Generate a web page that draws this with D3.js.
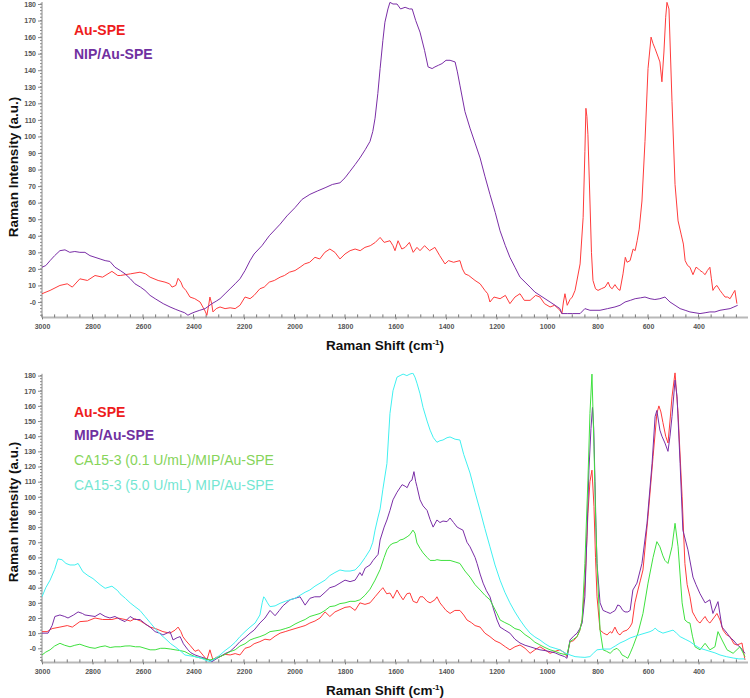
<!DOCTYPE html>
<html><head><meta charset="utf-8">
<script src="https://cdn.jsdelivr.net/npm/d3@7"></script>
<style>body{margin:0;background:#fff}svg{display:block}</style>
</head><body>
<svg id="c" width="750" height="698"></svg>
<script>
const xTickValues = [3000,2800,2600,2400,2200,2000,1800,1600,1400,1200,1000,800,600,400];
const yTickValues = [0,10,20,30,40,50,60,70,80,90,100,110,120,130,140,150,160,170,180];
const xTitle = "Raman Shift (cm";
const yTitle = "Raman Intensity (a.u.)";

const topLabels = ["Au-SPE","NIP/Au-SPE"];
const botLabels = ["Au-SPE","MIP/Au-SPE","CA15-3 (0.1 U/mL)/MIP/Au-SPE","CA15-3 (5.0 U/mL) MIP/Au-SPE"];

const topAuSPE = [[3000,5],[2968,7],[2929,10],[2900,11],[2880,9],[2850,14],[2820,13],[2790,16],[2760,15],[2723,18.5],[2700,16],[2690,16],[2650,17],[2612,18],[2590,17],[2572,15],[2540,13],[2513,12],[2495,11],[2485,9],[2470,10],[2461,14.3],[2450,12],[2442,9],[2430,7],[2414,3],[2395,2],[2374,0],[2354,-5.5],[2347,-8],[2340,-2],[2335,3],[2328,-1],[2323,-6],[2310,-4],[2295,-3],[2275,-4],[2255,-3.5],[2235,-4],[2216,-2],[2196,3],[2176,2],[2160,4],[2137,8],[2120,9],[2100,12],[2080,13],[2057,15],[2040,16],[2020,18],[1998,19],[1978,21],[1960,23],[1940,24],[1919,27],[1900,26],[1880,30],[1860,32],[1840,30],[1820,26],[1800,29],[1780,31],[1760,32],[1740,31],[1721,33],[1700,34],[1680,36],[1661,39],[1645,36],[1622,37],[1610,34],[1602,31],[1590,37],[1575,32],[1562,33],[1545,36],[1530,30],[1515,33],[1503,31],[1485,34],[1465,31],[1444,33],[1425,28],[1404,23],[1390,25],[1370,24],[1345,25],[1335,20],[1325,17],[1310,16],[1285,13],[1265,11],[1246,7],[1235,5],[1226,0],[1210,3],[1186,2],[1165,4],[1147,-1],[1127,3],[1107,5],[1090,1],[1067,1],[1045,4],[1028,3],[1010,-1],[988,-3],[970,-2],[949,-5],[941,-7],[935,0],[929,5],[920,-2],[909,1.5],[900,3],[889,7],[869,23],[857,51],[850,91],[846,117],[842,112],[838,101],[830,61],[824,30],[818,13],[808,8],[798,7],[785,8],[770,9],[758,12],[750,9],[742,8],[731,10.5],[720,8],[711,7],[699,17],[690,27],[683,24],[671,25],[659,32],[651,31],[643,37],[635,44],[624,61],[612,97],[600,141],[588,160],[580,156],[572,153],[560,148],[553,145],[545,133],[537,151],[530,172],[525,181],[517,177],[505,121],[493,71],[481,49],[469,41],[460,35],[453,25],[443,22],[434,21],[422,16.5],[410,21],[400,20],[394,19],[384,18],[374,16.5],[365,19],[355,21],[349,14],[343,7],[335,9],[327,10],[315,7],[305,5],[295,3],[285,3],[275,2],[264,5],[256,7],[248,-1]];

const topNIP = [[3000,21],[2985,22],[2968,25],[2950,28],[2929,31],[2909,31.5],[2890,30],[2870,30.5],[2850,30],[2830,30],[2810,28],[2790,27],[2770,26],[2750,25],[2731,24.5],[2711,21],[2690,19],[2671,17],[2650,14],[2632,11],[2610,9],[2592,7],[2572,4],[2552,2],[2520,-1],[2493,-3],[2470,-4.5],[2453,-5.5],[2435,-6.5],[2422,-8],[2410,-7],[2394,-6],[2375,-5],[2354,-4],[2327,-1],[2310,0.5],[2295,2],[2275,5],[2255,8],[2235,11],[2216,14],[2196,19],[2176,25],[2160,29],[2129,34],[2100,40],[2057,47],[2030,52],[1998,57],[1970,62],[1939,65],[1910,67],[1879,69],[1850,71],[1820,72],[1800,75],[1780,79],[1760,83],[1741,87],[1720,92],[1701,97],[1690,103],[1681,111],[1670,126],[1661,141],[1650,158],[1642,169],[1630,177],[1622,181],[1610,180],[1594,180],[1580,177],[1562,178],[1545,177],[1534,177],[1520,170],[1503,163],[1485,152],[1471,142],[1455,141],[1444,142],[1430,143],[1416,144],[1400,146],[1384,146],[1364,145],[1355,139],[1345,131],[1325,115],[1305,105],[1285,96],[1265,87],[1246,76],[1226,65],[1205,54],[1186,43],[1165,34],[1147,27],[1127,21],[1107,15],[1087,12],[1067,9],[1048,6],[1028,4],[1008,2],[988,0],[968,-2],[949,-4],[941,-7],[920,-7],[900,-7],[869,-7],[850,-4],[830,-5],[790,-5],[760,-4],[731,-3],[711,-2],[691,0],[670,1],[651,2],[630,2.5],[612,3],[592,2],[573,1.5],[553,2],[533,3],[513,0],[493,-2],[473,-4],[453,-5],[434,-6],[414,-6.5],[394,-7],[374,-6.5],[355,-6],[335,-6],[315,-5],[295,-4.5],[275,-4],[260,-3],[245,-2]];

const botAuSPE = [[3000,11],[2980,11],[2960,13],[2929,14],[2900,15],[2880,14],[2850,17.6],[2820,18],[2790,20],[2760,19],[2723,19],[2700,20],[2671,19],[2650,18],[2632,19.5],[2610,18],[2572,14],[2550,13],[2521,11],[2493,10],[2473,12],[2461,14],[2450,11],[2442,7.7],[2430,5],[2414,2],[2394,-2],[2380,-1],[2360,-5],[2347,-7.7],[2335,-1],[2323,-7.7],[2310,-6],[2295,-5.5],[2275,-4],[2255,-4.4],[2235,-3.5],[2216,-4.4],[2196,0],[2176,1],[2160,3],[2137,4.4],[2117,6],[2097,5.5],[2077,8],[2057,10],[2037,11],[2018,12],[1998,13],[1978,14],[1958,15],[1939,16.7],[1919,18],[1899,20],[1879,24],[1860,21],[1840,24],[1820,25.5],[1800,27],[1780,27.5],[1760,25],[1741,30],[1721,29],[1701,30],[1681,34],[1661,38],[1650,40],[1635,36],[1622,36.5],[1610,33],[1594,38.5],[1582,35],[1570,32],[1555,36],[1543,36.5],[1530,31],[1515,30],[1503,34],[1491,34],[1475,31],[1463,30],[1444,32],[1436,34],[1424,30],[1412,27.5],[1400,25],[1384,23],[1365,25],[1345,25],[1330,22],[1317,18.7],[1300,17],[1285,15],[1265,14],[1246,10],[1226,7.7],[1206,5],[1186,3.5],[1165,1],[1147,-1],[1127,1],[1107,2.2],[1087,0],[1067,-3.3],[1048,-1],[1028,1],[1008,-1],[988,-3.3],[968,-2],[949,-1],[930,-3],[921,-5.5],[909,4.4],[895,5],[881,7.7],[870,12],[861,18.7],[849,45],[838,89],[830,110],[822,117.6],[814,93.5],[808,60],[802,34],[790,12],[776,10],[762,8.8],[750,11],[743,10],[731,14],[720,10],[711,8.8],[700,11],[683,12],[672,14],[663,16.7],[652,30],[640,38.5],[630,45],[620,51.7],[600,87],[580,126.5],[565,155],[557,160],[549,156],[541,149],[530,140],[521,135.5],[513,150],[505,166],[493,182],[481,155],[465,100],[454,56],[445,42],[434,34],[424,24],[414,21],[404,18],[394,16.7],[384,19],[374,21],[364,18],[355,16.7],[340,20],[327,23],[315,18.7],[303,12],[290,9],[275,7.7],[260,3],[248,2.2],[235,3],[228,3.5],[216,-7.7]];

const botMIP = [[3000,10],[2976,10],[2960,15],[2949,21],[2929,22],[2910,21],[2897,20],[2875,22],[2857,24],[2840,23],[2830,22],[2810,21.5],[2790,21],[2770,23],[2750,21],[2731,20],[2711,21],[2690,19],[2671,17.6],[2651,21],[2632,19],[2612,19],[2590,16],[2572,14],[2552,11],[2535,10],[2521,8.8],[2505,10],[2493,11],[2481,5.5],[2465,7],[2453,7.7],[2440,3],[2422,-1],[2410,-3],[2394,-4.4],[2375,-5.5],[2354,-6.6],[2340,-7.5],[2327,-8.8],[2310,-7],[2295,-5.5],[2275,-3.5],[2255,-2],[2235,1],[2216,4.4],[2196,7],[2176,10],[2160,12],[2137,16.7],[2117,20],[2097,25],[2077,21.5],[2060,25],[2046,28],[2018,32],[1998,33],[1978,34],[1958,28.5],[1939,33],[1920,34],[1899,34],[1879,37],[1860,40],[1840,41],[1820,43],[1800,45],[1780,44],[1760,45],[1741,50],[1733,48],[1720,53],[1701,55],[1689,58],[1669,62],[1661,71.5],[1645,80],[1634,84.7],[1622,91],[1610,98],[1594,103],[1574,108],[1562,107],[1554,106],[1543,110],[1535,111],[1527,116.6],[1520,110],[1515,106.7],[1503,98],[1491,94],[1475,91],[1463,85],[1451,80],[1436,84.7],[1424,83],[1412,84],[1396,83.6],[1384,86],[1370,83],[1356,80],[1345,79],[1333,78],[1317,70],[1305,67],[1285,60],[1277,56],[1265,49],[1253,43],[1240,38],[1226,34],[1212,26],[1198,18.7],[1186,14],[1167,12],[1147,10],[1127,6],[1107,3.5],[1087,2],[1067,1],[1048,0],[1028,-1],[1008,-1.5],[988,-2.2],[968,-3],[949,-4.4],[930,-5.5],[921,-6.6],[909,5.5],[895,8],[881,10],[870,13],[861,16.7],[850,34],[842,73.6],[834,117.6],[826,145],[820,159],[815,145],[810,110],[806,80],[802,56],[790,30],[778,25],[764,24],[750,23],[740,24],[730,25],[720,28.6],[711,28],[700,25],[691,24],[680,24],[671,25],[660,38.5],[644,43],[624,56],[604,82.6],[584,122],[572,153],[565,157],[553,144],[545,140],[533,135.5],[521,130],[513,140],[505,153],[493,177],[485,166],[473,122],[462,78],[442,65],[422,47],[410,42],[394,36],[374,30],[355,32],[343,23],[323,30.8],[307,14],[287,10],[275,7],[263,5.5],[245,2],[236,1],[216,-3.3]];

const botCA01 = [[3000,-4.4],[2985,-2.5],[2968,-1],[2950,1.5],[2929,3.3],[2910,2],[2889,1],[2870,2],[2850,2.7],[2830,1.5],[2810,0.5],[2790,0],[2770,1],[2750,1.6],[2730,0.5],[2711,1],[2690,1],[2671,1.5],[2651,1.6],[2630,1],[2612,1],[2592,0],[2572,-1],[2552,-1],[2530,0],[2513,0],[2490,-0.5],[2473,-1],[2453,-1.5],[2434,-2.2],[2414,-4],[2394,-5.5],[2370,-6.5],[2335,-7.7],[2310,-6.5],[2295,-5.5],[2275,-4],[2255,-2.2],[2235,-1],[2216,1.5],[2196,3],[2176,5.5],[2160,6.5],[2137,7.7],[2117,9],[2097,11],[2077,11.5],[2057,12],[2037,13],[2018,14],[1998,16],[1978,17.6],[1958,19],[1939,21],[1919,22],[1899,23],[1879,25],[1860,27.5],[1840,28],[1820,29.5],[1800,30],[1780,31],[1760,31],[1741,32],[1721,35],[1701,39],[1681,45],[1661,52],[1645,60],[1634,65],[1622,68],[1610,69.3],[1594,70],[1582,71.5],[1570,72],[1554,73.6],[1543,75],[1531,78],[1523,76],[1515,69.5],[1503,66],[1491,63],[1475,60],[1463,58],[1444,58],[1436,58.5],[1420,58],[1400,58],[1384,58],[1364,57],[1345,56],[1325,51],[1305,47],[1285,42],[1265,38.5],[1246,35],[1226,32],[1198,23],[1186,18.7],[1167,17],[1147,15.4],[1127,13],[1107,12],[1087,9],[1067,6.8],[1048,4],[1028,2.2],[1008,0.5],[988,-1],[968,-2],[949,-3.3],[921,-4.4],[909,4.4],[895,6],[881,7.7],[870,12],[861,18.7],[850,56],[838,111],[830,155],[822,181],[814,133],[808,90],[802,56],[790,12],[778,-1],[764,-2],[750,-3.3],[736,-1],[723,0],[711,-2],[703,-4.4],[690,-5.5],[680,-6.6],[670,-3],[660,1],[640,10],[620,23],[600,43],[580,60],[565,70.4],[553,67],[541,61],[533,58],[521,56],[505,67],[493,82.5],[481,67],[465,30],[454,18.7],[442,17],[434,16.7],[424,8],[414,1],[394,-1],[374,3.3],[355,-1],[335,1],[323,11],[307,5.5],[287,-1],[263,-3.3],[236,1],[216,-5.5]];

const botCA50 = [[3000,34],[2985,40],[2968,45],[2950,52],[2937,59],[2921,58.5],[2905,56],[2889,55],[2870,55],[2857,56],[2838,50.5],[2818,48],[2798,46],[2770,42],[2750,39.6],[2723,41],[2700,38],[2691,36],[2670,33],[2651,30],[2632,27.5],[2612,25],[2592,21],[2572,17],[2552,13],[2530,9],[2513,6.6],[2490,3],[2473,1],[2450,-2],[2434,-4.4],[2414,-5],[2394,-5.5],[2370,-6.5],[2354,-7.7],[2335,-8.8],[2315,-7],[2295,-4.4],[2275,-1.5],[2255,1],[2235,4],[2216,7.7],[2196,11],[2176,14],[2156,16.7],[2137,22],[2128,30],[2122,34],[2117,33],[2107,30],[2097,27.5],[2077,28],[2057,29.7],[2037,31],[2018,32],[1998,33],[1978,35],[1958,37],[1939,38.5],[1919,41],[1899,43],[1879,45],[1860,48],[1840,50],[1820,51.7],[1800,51],[1780,51],[1760,51.7],[1741,55],[1720,60],[1701,65],[1690,70],[1681,78],[1670,86],[1661,92],[1650,105],[1634,122],[1622,155],[1610,170],[1594,179],[1582,180],[1570,181],[1555,180],[1543,181],[1531,181.6],[1523,179],[1515,175],[1503,168],[1491,159],[1475,150],[1463,144],[1450,139],[1436,136],[1424,137],[1412,137.5],[1396,139],[1384,139.5],[1364,138],[1345,137.5],[1330,128],[1305,115.7],[1285,103],[1265,91],[1246,79],[1226,67],[1206,55],[1186,45],[1167,37],[1147,30],[1127,24],[1107,18.7],[1087,14],[1067,10],[1048,7.5],[1028,5.5],[1008,3],[988,1],[968,0],[949,-1],[929,-3],[909,-4.4],[889,-5.5],[869,-5.8],[850,-6],[830,-5.5],[815,-3],[802,-1],[776,-0.5],[750,-0.5],[730,1.5],[711,3.5],[691,5],[671,6.8],[650,8],[632,9],[612,10],[592,11],[580,12],[572,13.3],[560,11.5],[541,10],[521,11],[501,12],[487,10],[473,7.7],[453,6],[434,4.4],[414,2],[394,0],[374,-1],[355,-2],[335,-3],[315,-4.4],[290,-5.5],[263,-6.4],[240,-7],[216,-7]];

const lineColors = ["#ff3b3b","#7a2ea6","#3fe03f","#40f0f0"];
const textColors = ["#ee1c1c","#7030a0","#86d45a","#74e6d2"];

const svg = d3.select("#c");
const font = "'Liberation Sans', Arial, sans-serif";

function panel(cfg) {
  const x = d3.scaleLinear().domain([3000, 212]).range([42, 746]);
  const y = d3.scaleLinear().domain([0, 180]).range([cfg.y0, cfg.y180]);
  const yBottom = y(-9.3), yTop = Math.max(0, y(181.2));
  const g = svg.append("g");
  const id = "clip" + cfg.name;
  svg.append("clipPath").attr("id", id).append("rect")
    .attr("x", 42).attr("y", yTop - 1).attr("width", 706).attr("height", yBottom - yTop + 1);

  g.append("line").attr("x1", 42).attr("x2", 42).attr("y1", yTop).attr("y2", yBottom)
    .attr("stroke", "#8a8a8a").attr("stroke-width", 1);
  g.append("line").attr("x1", 42).attr("x2", 748).attr("y1", yBottom).attr("y2", yBottom)
    .attr("stroke", "#b8b8b8").attr("stroke-width", 2);

  const yMinor = d3.range(-8, 181, 2);
  g.selectAll(".ym").data(yMinor).join("line")
    .attr("x1", 40).attr("x2", 42).attr("y1", d => y(d)).attr("y2", d => y(d))
    .attr("stroke", "#8a8a8a").attr("stroke-width", 1);
  const yAxis = d3.axisLeft(y).tickValues(yTickValues).tickSize(4)
    .tickFormat(d => d === 0 ? "-0" : d);
  const ya = g.append("g").attr("transform", "translate(42,0)").call(yAxis);
  ya.select(".domain").remove();
  ya.selectAll(".tick line").attr("stroke", "#8a8a8a");
  ya.selectAll(".tick text").attr("fill", "#555").attr("font-size", 7).attr("font-weight", "bold")
    .attr("font-family", font).attr("x", -6);

  const xMinor = d3.range(250, 3001, 50);
  g.selectAll(".xm").data(xMinor).join("line")
    .attr("x1", d => x(d)).attr("x2", d => x(d)).attr("y1", yBottom - 3).attr("y2", yBottom)
    .attr("stroke", "#777").attr("stroke-width", 1);
  const xAxis = d3.axisBottom(x).tickValues(xTickValues).tickSize(2).tickFormat(d => d);
  const xa = g.append("g").attr("transform", `translate(0,${yBottom})`).call(xAxis);
  xa.select(".domain").remove();
  xa.selectAll(".tick line").attr("stroke", "#777");
  xa.selectAll(".tick text").attr("fill", "#555").attr("font-size", 7).attr("font-weight", "bold")
    .attr("font-family", font).attr("dy", "0.9em");

  const line = d3.line().x(d => x(d[0])).y(d => y(d[1]));
  const lg = g.append("g").attr("clip-path", `url(#${id})`);
  cfg.series.forEach((s, i) => {
    lg.append("path").datum(s).attr("d", line).attr("fill", "none")
      .attr("stroke", cfg.colors[i]).attr("stroke-width", 1).attr("stroke-linejoin", "round");
  });

  cfg.labels.forEach((t, i) => {
    g.append("text").attr("x", 74).attr("y", cfg.legendY[i]).text(t)
      .attr("fill", cfg.textColors[i]).attr("font-family", font)
      .attr("font-size", 14).attr("font-weight", i < 2 ? "bold" : "normal");
  });

  g.append("text").attr("transform", `translate(18,${cfg.yTitleY}) rotate(-90)`)
    .attr("text-anchor", "middle").attr("font-family", font).attr("font-size", 13.5)
    .attr("font-weight", "bold").attr("fill", "#111").text(yTitle);

  const xt = g.append("text").attr("x", 385).attr("y", cfg.xTitleY).attr("text-anchor", "middle")
    .attr("font-family", font).attr("font-size", 13.5).attr("font-weight", "bold").attr("fill", "#111");
  xt.append("tspan").text(xTitle);
  xt.append("tspan").text("-1").attr("font-size", 8).attr("dy", -5);
  xt.append("tspan").text(")").attr("dy", 5);
}

panel({name: "top", y0: 302, y180: 4, series: [topAuSPE, topNIP],
  colors: [lineColors[0], lineColors[1]], textColors: [textColors[0], textColors[1]],
  labels: topLabels, legendY: [35, 59], yTitleY: 167, xTitleY: 350});
panel({name: "bot", y0: 648.3, y180: 375.6, series: [botAuSPE, botMIP, botCA01, botCA50],
  colors: lineColors, textColors: textColors,
  labels: botLabels, legendY: [417, 440, 465, 490], yTitleY: 512, xTitleY: 695});
</script>
</body></html>
